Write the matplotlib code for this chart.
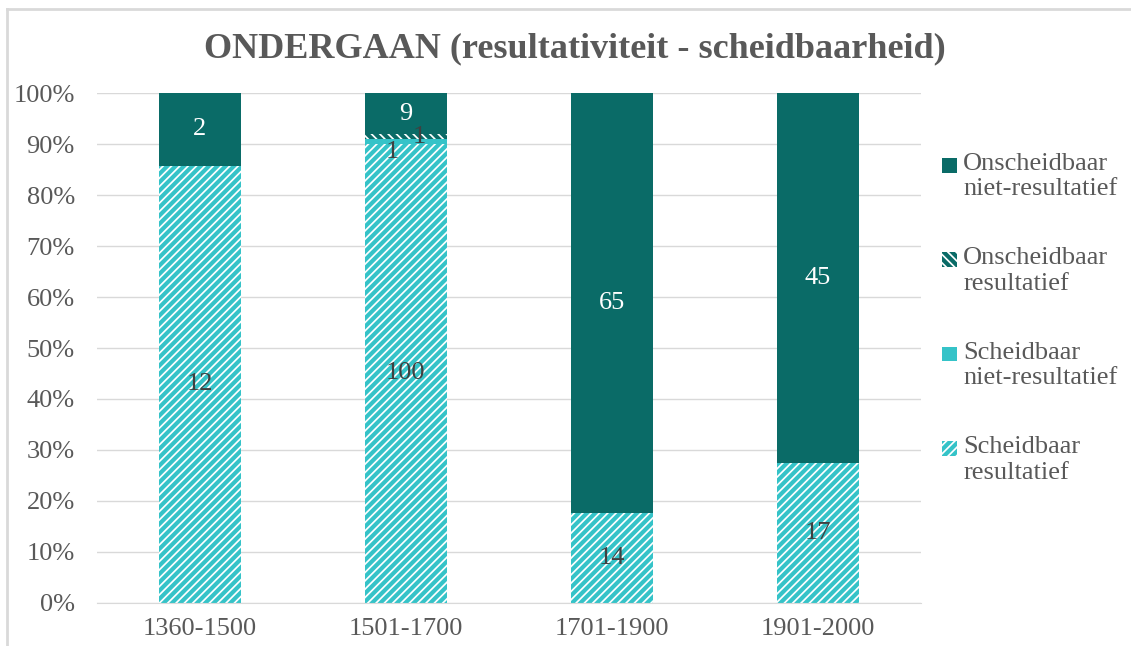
import numpy as np
import matplotlib.pyplot as plt
from matplotlib.patches import Rectangle
from matplotlib.legend_handler import HandlerPatch
from matplotlib.lines import Line2D

plt.rcParams['font.family'] = ['Liberation Serif', 'DejaVu Serif']
plt.rcParams['hatch.linewidth'] = 3.0

periods = ['1360-1500', '1501-1700', '1701-1900', '1901-2000']
sch_res = [12, 100, 14, 17]       # Scheidbaar resultatief
sch_niet = [0, 1, 0, 0]           # Scheidbaar niet-resultatief
onsch_res = [0, 1, 0, 0]          # Onscheidbaar resultatief
onsch_niet = [2, 9, 65, 45]       # Onscheidbaar niet-resultatief

dark = '#0a6b67'
light = '#35c3c8'
grey = '#595959'

series = [
    (sch_res, 'Scheidbaar\nresultatief', 'white', light, '////'),
    (sch_niet, 'Scheidbaar\nniet-resultatief', light, light, None),
    (onsch_res, 'Onscheidbaar\nresultatief', 'white', dark, '\\\\\\\\'),
    (onsch_niet, 'Onscheidbaar\nniet-resultatief', dark, dark, None),
]

totals = np.sum([s[0] for s in series], axis=0)

fig = plt.figure(figsize=(11.31, 6.46), dpi=100)
ax = fig.add_axes([0.0858, 0.0666, 0.7282, 0.7894])

x = np.arange(len(periods))
bottom = np.zeros(len(periods))
handles = []
for vals, lab, fc, ec, hatch in series:
    pct = np.array(vals) / totals * 100
    b = ax.bar(x, pct, 0.4, bottom=bottom, color=fc, edgecolor=ec,
               hatch=hatch, linewidth=0, label=lab, zorder=2)
    handles.append(b.patches[0])
    bottom += pct

# data labels
bottom = np.zeros(len(periods))
for k, (vals, lab, fc, ec, hatch) in enumerate(series):
    pct = np.array(vals) / totals * 100
    for i in range(len(periods)):
        if vals[i] == 0:
            continue
        xx = x[i]
        yy = bottom[i] + pct[i] / 2
        col = 'white' if k == 3 else '#404040'
        if k == 1:
            xx -= 0.065
            yy -= 2.2
        elif k == 2:
            xx += 0.065
        ax.text(xx, yy, str(vals[i]), ha='center', va='center',
                fontsize=19, color=col, zorder=3)
    bottom += pct

ax.set_xlim(-0.5, 3.5)
ax.set_ylim(0, 100)
ax.set_yticks(np.arange(0, 101, 10))
ax.set_yticklabels(['%d%%' % v for v in range(0, 101, 10)])
ax.set_xticks(x)
ax.set_xticklabels(periods)
ax.tick_params(axis='both', length=0, labelsize=19, colors=grey)
ax.tick_params(axis='x', pad=11)
ax.tick_params(axis='y', pad=16)
ax.yaxis.grid(True, color='#d9d9d9', linewidth=1, zorder=0)
ax.set_axisbelow(True)
for s in ['top', 'right', 'left']:
    ax.spines[s].set_visible(False)
ax.spines['bottom'].set_color('#d9d9d9')

fig.text(0.508, 1 - 57 / 646, 'ONDERGAAN (resultativiteit - scheidbaarheid)',
         ha='center', va='baseline', fontsize=26, fontweight='bold', color=grey)


# square marker next to the first line of each legend entry
def top_square(legend, orig_handle, xdescent, ydescent, width, height, fontsize):
    w = 0.55 * fontsize
    return Rectangle((-xdescent, 0.48 * fontsize), w, w)


leg = fig.legend(handles[::-1], [s[1] for s in series][::-1],
                 loc='upper left', bbox_to_anchor=(942 / 1131, 1 - 153 / 646),
                 frameon=False, fontsize=19, labelspacing=1.78,
                 handlelength=0.55, handleheight=0.6, handletextpad=0.25,
                 borderpad=0, borderaxespad=0, labelcolor=grey,
                 handler_map={Rectangle: HandlerPatch(patch_func=top_square)})

# outer border (top and left visible)
fig.add_artist(Line2D([7 / 1131, 1], [1 - 9 / 646, 1 - 9 / 646], color='#d9d9d9', lw=2))
fig.add_artist(Line2D([7 / 1131, 7 / 1131], [0, 1 - 9 / 646], color='#d9d9d9', lw=2))

fig.savefig('out.png', dpi=100)
